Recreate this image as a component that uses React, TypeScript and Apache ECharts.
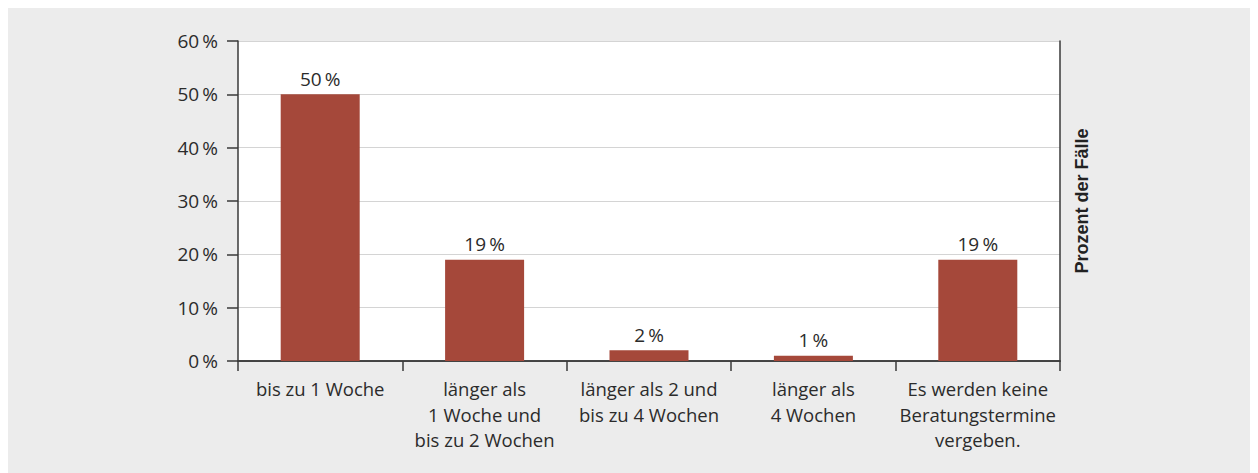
import React, { useEffect, useRef } from "react";
import * as echarts from "echarts";

const categories = [
  "bis zu 1 Woche",
  "länger als\n1 Woche und\nbis zu 2 Wochen",
  "länger als 2 und\nbis zu 4 Wochen",
  "länger als\n4 Wochen",
  "Es werden keine\nBeratungstermine\nvergeben.",
];
const values = [50, 19, 2, 1, 19];
const yTicks = { min: 0, max: 60, interval: 10 };
const axisName = "Prozent der Fälle";

const FONT = "Open Sans";
const TEXT = "#2b2b2b";
const AXIS = "#3a3a3a";

export default function App() {
  const ref = useRef<HTMLDivElement>(null);
  useEffect(() => {
    document.documentElement.style.overflow = "hidden";
    const chart = echarts.init(ref.current!, undefined, { renderer: "svg" });
    chart.setOption({
      animation: false,
      backgroundColor: "#ececec",
      grid: {
        left: 230,
        right: 198,
        top: 33,
        bottom: 112,
        show: true,
        backgroundColor: "#ffffff",
        borderWidth: 0,
      },
      xAxis: [
        {
          type: "category",
          data: categories,
          boundaryGap: true,
          axisLine: { lineStyle: { color: AXIS, width: 1.5 } },
          axisTick: { show: true, length: 10, alignWithLabel: false, lineStyle: { color: AXIS, width: 1.5 } },
          axisLabel: {
            interval: 0,
            color: TEXT,
            fontFamily: FONT,
            fontSize: 18.5,
            lineHeight: 25.5,
            margin: 15,
          },
        },
        {
          type: "category",
          data: categories,
          position: "top",
          axisLine: { show: true, lineStyle: { color: AXIS, width: 1.5 } },
          axisTick: { show: false },
          axisLabel: { show: false },
        },
      ],
      yAxis: [
        {
          type: "value",
          min: yTicks.min,
          max: yTicks.max,
          interval: yTicks.interval,
          axisLine: { show: true, lineStyle: { color: AXIS, width: 1.5 } },
          axisTick: { show: true, length: 11, lineStyle: { color: AXIS, width: 1.5 } },
          splitLine: { lineStyle: { color: "#d4d4d4", width: 1.2 } },
          axisLabel: {
            formatter: (v: number) => `${v}\u2009%`,
            color: TEXT,
            fontFamily: FONT,
            fontSize: 19,
            margin: 20,
          },
        },
        {
          type: "value",
          position: "right",
          min: yTicks.min,
          max: yTicks.max,
          interval: yTicks.interval,
          name: axisName,
          nameLocation: "middle",
          nameRotate: 90,
          nameGap: 13,
          nameTextStyle: {
            fontFamily: "Liberation Sans",
            fontWeight: "bold",
            fontSize: 18,
            color: "#222",
          },
          axisLine: { show: true, lineStyle: { color: AXIS, width: 1.5 } },
          axisTick: { show: false },
          axisLabel: { show: false },
          splitLine: { show: false },
        },
      ],
      series: [
        {
          type: "bar",
          data: values,
          barWidth: 79,
          itemStyle: { color: "#a5483a" },
          label: {
            show: true,
            position: "top",
            distance: 6,
            formatter: (p: any) => `${p.value}\u2009%`,
            color: TEXT,
            fontFamily: FONT,
            fontSize: 19,
          },
        },
      ],
    });
    return () => chart.dispose();
  }, []);
  return <div ref={ref} style={{ width: 1250, height: 465, background: "#ececec" }} />;
}
